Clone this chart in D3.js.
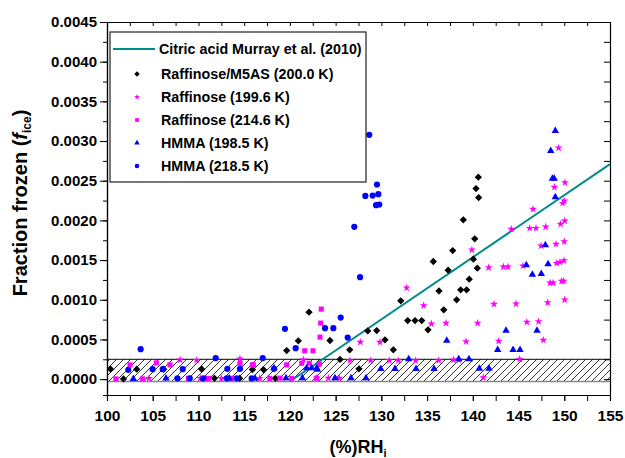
<!DOCTYPE html>
<html>
<head>
<meta charset="utf-8">
<script src="https://d3js.org/d3.v7.min.js"></script>
<style>
body{margin:0;background:#fff;}
text{font-family:"Liberation Sans",Arial,sans-serif;font-weight:bold;fill:#000;}
</style>
</head>
<body>
<div id="graph"></div>
<script>
//setting dimension
var width=625, height=458;
var left=107, right=610, top_=22, bottom=395;

//data: [RHi (%), fraction frozen]
var raffM5AS=[[140.6,0.002545],[140.35,0.002401],[140.64,0.002288],[138.96,0.002007],[140.21,0.001768],[137.8,0.00162],
  [140.06,0.001512],[135.68,0.001482],[137.3,0.001373],[140.49,0.001398],[139.61,0.00126],[138.67,0.001125],[139.32,0.001125],
  [136.3,0.001112],[138.23,0.000999],[132.12,0.000987],[136.82,0.000873],[122.09,0.000844],[132.88,0.000738],[133.68,0.000738],
  [134.41,0.000738],[135.1,0.000621],[128.51,0.000608],[129.49,0.000612],[130.39,0.000495],[120.92,0.000483],[124.38,0.000487],
  [119.65,0.00036],[126.54,0.000369],[131.31,0.000369],[125.48,0.000248],[127.55,0.00013],
  [100.4,0.000126],[101.8,0.000003],[103.25,0.000126],[106.2,0.000126],[110.36,0.000126],[111.75,0.00001],[114.5,0.00001],
  [115.9,0.00012],[117.1,0.00012],[118.4,0.00001]];
var raff196=[[149.39,0.002914],[150.08,0.002477],[148.92,0.002419],[146.59,0.002142],[150.0,0.002246],[149.83,0.002217],
  [150.05,0.001994],[149.6,0.001953],[144.21,0.00189],[146.22,0.001902],[146.91,0.001902],[147.97,0.001919],[139.9,0.001629],
  [147.46,0.001679],[149.1,0.001701],[150.0,0.001734],[141.74,0.001406],[143.34,0.001415],[143.85,0.001415],[145.49,0.001427],
  [149.17,0.001461],[149.53,0.001474],[149.97,0.001494],[148.45,0.001213],[148.78,0.001213],[149.71,0.001235],[149.94,0.001235],
  [132.77,0.00115],[134.63,0.000927],[142.32,0.000945],[144.73,0.000949],[148.19,0.000965],[150.05,0.000999],[135.47,0.000697],
  [137.07,0.000706],[140.53,0.000706],[145.91,0.000718],[147.2,0.000726],[127.7,0.000466],[129.85,0.000466],[139.26,0.000474],
  [142.83,0.000479],[147.71,0.000491],
  [108.0,0.000243],[109.8,0.000238],[114.54,0.000255],[121.47,0.000243],[126.57,0.000235],[128.83,0.000235],[130.87,0.000235],
  [131.85,0.000235],[133.75,0.000235],[136.27,0.000235],[137.9,0.000243],[138.49,0.000243],[145.13,0.000252],
  [122.93,0.000013],[124.2,0.000013],[125.4,0.000013],[141.15,0.00002],[104.6,0.00001],[110.2,0.00001],[112.5,0.00001],[116.7,0.00001]];
var raff214=[[123.43,0.000882],[123.37,0.000706],[123.29,0.000529],[121.62,0.000357],[122.53,0.000357],
  [102.52,0.00018],[105.4,0.000205],[106.89,0.00018],[115.89,0.00018],[114.54,0.0002],[116.0,0.00018],[119.65,0.00018],
  [121.29,0.0002],[122.12,0.0002],[123.22,0.000189],[100.98,0.000003],[103.9,0.000003],[108.9,0.00001],[111.1,0.00001],
  [113.6,0.00001],[117.8,0.00001],[118.92,0.000013],[122.93,0.000013],[120.2,0.00001]];
var hmma198=[[149.02,0.003128],[148.52,0.002876],[148.7,0.002527],[148.9,0.002527],[149.02,0.002293],[147.93,0.001688],
  [145.85,0.001436],[146.51,0.001318],[147.49,0.001327],[148.23,0.001449],[137.15,0.000487],[143.63,0.000612],[147.02,0.000612],
  [142.72,0.000369],[144.4,0.000369],[145.16,0.000369],[132.99,0.000252],[138.46,0.000252],[139.58,0.000252],[140.71,0.000134],
  [141.77,0.000134],
  [129.93,0.00013],[131.49,0.00013],[133.79,0.00013],[135.76,0.00013],[126.68,0.000013],[128.32,0.000013],[124.93,0.000013],
  [122.93,0.000139],[118.26,0.000139],[121.84,0.000139],[123.0,0.00012],[119.57,0.000013],[121.36,0.000013],[102.88,0.000003],
  [106.45,0.00001],[113.37,0.00001],[116.18,0.00001],[122.38,0.000139]];
var hmma218=[[128.68,0.003078],[129.52,0.002452],[128.25,0.002309],[129.05,0.002313],[129.67,0.002331],[129.42,0.002192],
  [129.77,0.0022],[127.04,0.001919],[127.67,0.001285],[119.46,0.000634],[123.84,0.000642],[124.75,0.000642],[125.55,0.000776],
  [126.32,0.000524],[120.63,0.00039],[103.68,0.000378],[111.89,0.000265],[117.03,0.000265],
  [102.33,0.000117],[104.99,0.000126],[106.09,0.000126],[108.28,0.000126],[113.16,0.00013],[114.54,0.00013],[118.26,0.00013],
  [107.7,0.00001],[109.05,0.00001],[110.53,0.00001],[113.09,0.00001],[114.18,0.00001],[115.82,0.00001]];
var citric=[[120,-0.00003],[155,0.00271]];
var band=[-0.00003,0.00025];

var xMajor=[100,105,110,115,120,125,130,135,140,145,150,155];
var xMinor=d3.range(100,155.1,2.5);
var yMajor=[0,0.0005,0.001,0.0015,0.002,0.0025,0.003,0.0035,0.004,0.0045];
var yMinor=d3.range(0,0.00451,0.00025);
var legendNames=["Citric acid Murray et al. (2010)","Raffinose/M5AS (200.0 K)","Raffinose (199.6 K)",
  "Raffinose (214.6 K)","HMMA (198.5 K)","HMMA (218.5 K)"];

var svg=d3.select("#graph").append("svg")
  .attr("width",width).attr("height",height);

var x=d3.scaleLinear().domain([100,155]).range([left,right]);
var y=d3.scaleLinear().domain([-0.0002,0.0045]).range([bottom,top_]);

//hatch pattern for the band
var pat=svg.append("defs").append("pattern")
  .attr("id","hatch").attr("patternUnits","userSpaceOnUse")
  .attr("width",7).attr("height",7);
pat.append("path")
  .attr("d","M-1,1 l2,-2 M0,7 l7,-7 M6,8 l2,-2")
  .attr("stroke","#000").attr("stroke-width",0.8);

svg.append("rect")
  .attr("x",left).attr("y",y(band[1]))
  .attr("width",right-left).attr("height",y(band[0])-y(band[1]))
  .attr("fill","url(#hatch)");
svg.append("line")
  .attr("x1",left).attr("x2",right).attr("y1",y(band[1])).attr("y2",y(band[1]))
  .attr("stroke","#000").attr("stroke-width",1);
svg.append("line")
  .attr("x1",left).attr("x2",right).attr("y1",y(band[0])).attr("y2",y(band[0]))
  .attr("stroke","#888").attr("stroke-width",1.5);

//citric acid line
svg.append("path")
  .datum(citric)
  .attr("d",d3.line().x(function(d){return x(d[0]);}).y(function(d){return y(d[1]);}))
  .attr("stroke","#008b8b").attr("stroke-width",2).attr("fill","none");

//scatter series
var series=[
  [raffM5AS,d3.symbolDiamond2,34,"#000"],
  [raff196,d3.symbolStar,20,"#ff00ff"],
  [raff214,d3.symbolSquare,26,"#ff00ff"],
  [hmma198,d3.symbolTriangle,24,"#0000ff"],
  [hmma218,d3.symbolCircle,30,"#0000ff"]
];
series.forEach(function(s){
  svg.append("g").selectAll("path")
    .data(s[0]).enter().append("path")
    .attr("transform",function(d){return "translate("+x(d[0])+","+y(d[1])+")";})
    .attr("d",d3.symbol().type(s[1]).size(s[2]))
    .attr("fill",s[3]);
});

//axes
svg.append("g").attr("transform","translate(0,"+bottom+")")
  .call(d3.axisBottom(x).tickValues(xMinor).tickSize(6).tickFormat(""));
var xa=svg.append("g").attr("transform","translate(0,"+bottom+")")
  .call(d3.axisBottom(x).tickValues(xMajor).tickSize(6).tickSizeOuter(0).tickPadding(9).tickFormat(d3.format("d")));
xa.selectAll("text").style("font-size","15.5px");

svg.append("g").attr("transform","translate("+left+",0)")
  .call(d3.axisLeft(y).tickValues(yMinor).tickSize(4).tickFormat(""));
var ya=svg.append("g").attr("transform","translate("+left+",0)")
  .call(d3.axisLeft(y).tickValues(yMajor).tickSize(7).tickSizeOuter(0).tickPadding(3).tickFormat(d3.format(".4f")));
ya.selectAll("text").style("font-size","15px");

svg.append("g").attr("transform","translate(0,"+top_+")")
  .call(d3.axisTop(x).tickValues(xMinor).tickSize(-4).tickSizeOuter(0).tickFormat(""));
svg.append("g").attr("transform","translate("+right+",0)")
  .call(d3.axisRight(y).tickValues(yMinor).tickSize(-6).tickSizeOuter(0).tickFormat(""));

svg.selectAll(".domain").attr("stroke","#000").attr("stroke-width",1.2);
svg.selectAll(".tick line").attr("stroke","#000");

//axis titles
var xt=svg.append("text").attr("x",358).attr("y",453)
  .attr("text-anchor","middle").style("font-size","18px");
xt.append("tspan").text("(%)RH");
xt.append("tspan").attr("dy",4).style("font-size","11px").text("i");

var yt=svg.append("text").attr("transform","translate(27,203) rotate(-90)")
  .attr("text-anchor","middle").style("font-size","20px");
yt.append("tspan").text("Fraction frozen (");
yt.append("tspan").style("font-style","italic").text("f");
yt.append("tspan").attr("dy",4).style("font-size","12px").text("ice");
yt.append("tspan").attr("dy",-4).text(")");

//legend
var legend=svg.append("g");
legend.append("rect")
  .attr("x",110).attr("y",32).attr("width",256).attr("height",150)
  .attr("fill","#fff").attr("stroke","#222").attr("stroke-width",1.2);
legend.append("line")
  .attr("x1",113).attr("x2",155).attr("y1",49).attr("y2",49)
  .attr("stroke","#008b8b").attr("stroke-width",2);
legend.selectAll("path.mk")
  .data(series).enter().append("path")
  .attr("class","mk")
  .attr("transform",function(d,i){return "translate(137,"+(74+i*23)+")";})
  .attr("d",function(d){return d3.symbol().type(d[1]).size(d[2]*0.55)();})
  .attr("fill",function(d){return d[3];});
legend.selectAll("text")
  .data(legendNames).enter().append("text")
  .attr("x",function(d,i){return i==0?159:161;})
  .attr("y",function(d,i){return i==0?54:79+(i-1)*23;})
  .style("font-size","14.3px")
  .text(function(d){return d;});
</script>
</body>
</html>
